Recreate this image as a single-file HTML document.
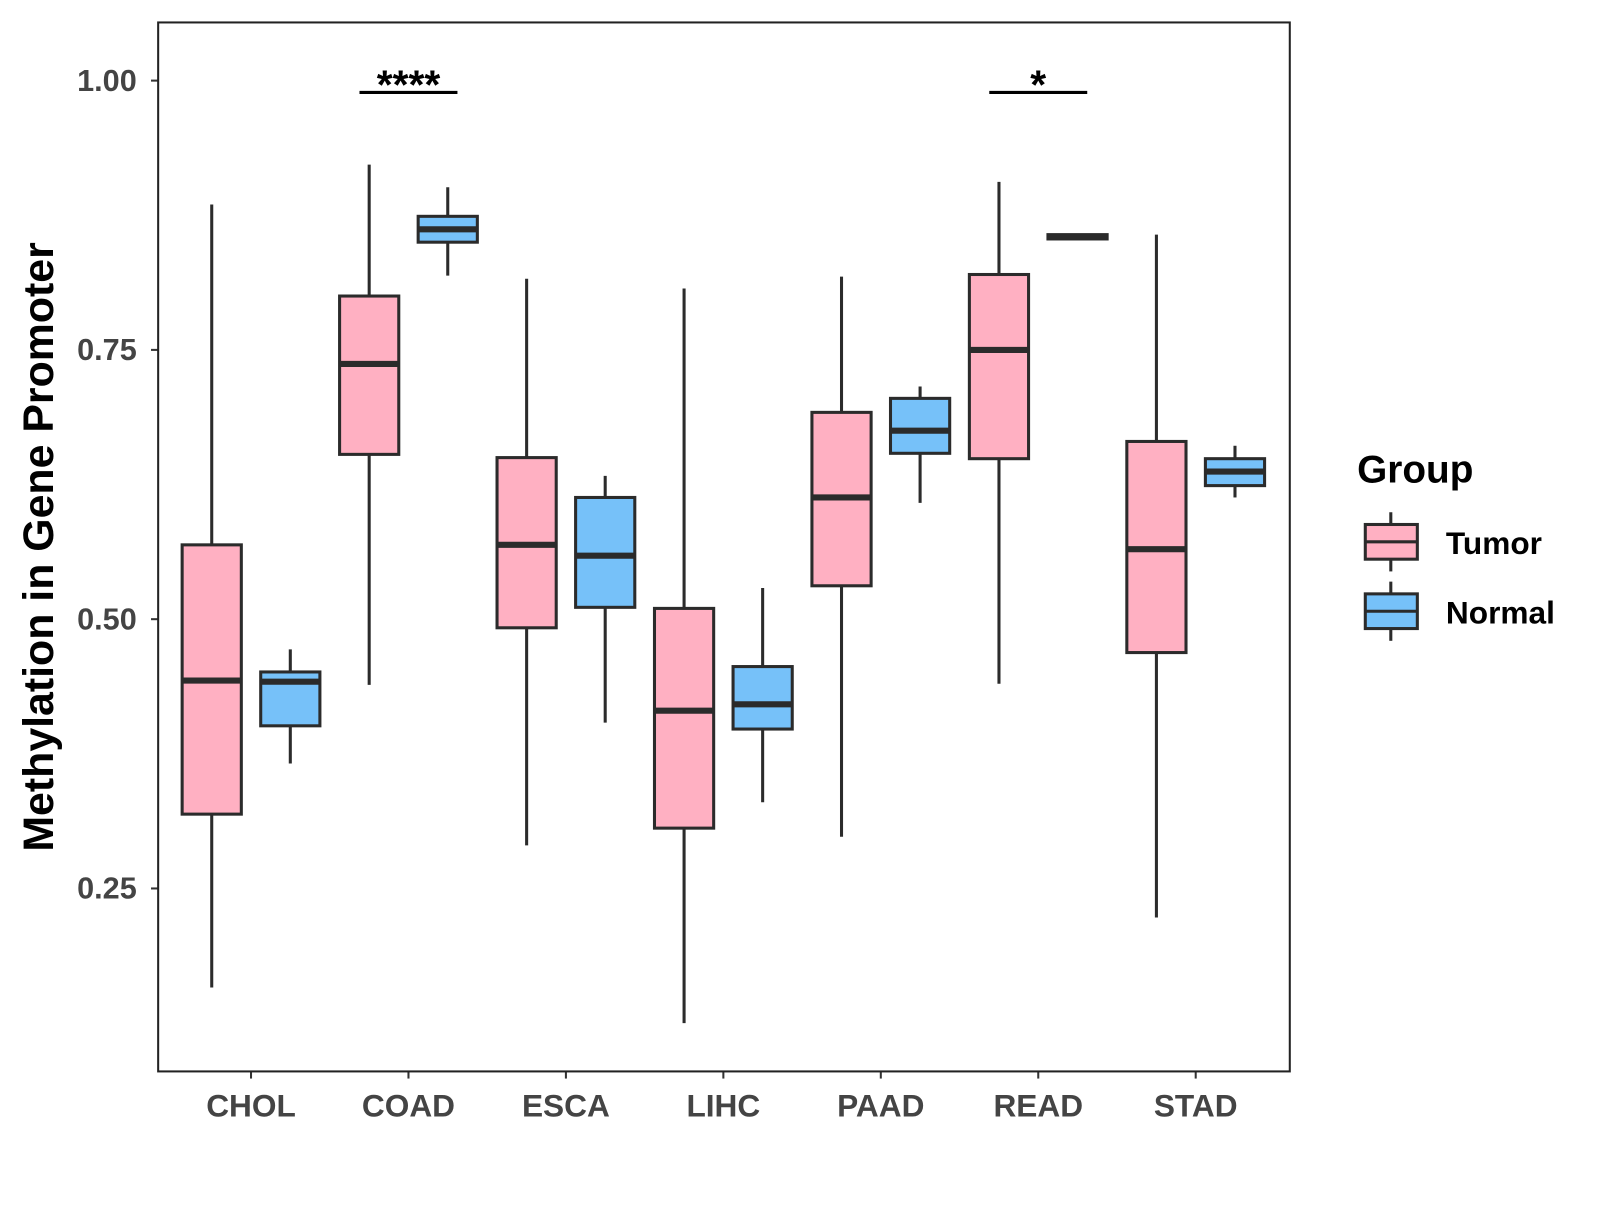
<!DOCTYPE html>
<html><head><meta charset="utf-8"><style>
body{margin:0;background:#fff;}
svg text{font-family:"Liberation Sans",Arial,sans-serif;font-weight:bold;}
</style></head><body>
<svg id="chart" width="1600" height="1200" xmlns="http://www.w3.org/2000/svg">
<rect x="0" y="0" width="1600" height="1200" fill="#fff"/>
<g transform="scale(1.0204)">
<g id="plot"></g>
<rect x="155" y="22" width="1109" height="1028" fill="none" stroke="#222" stroke-width="2"/>
<text x="52" y="536" font-size="42" text-anchor="middle" transform="rotate(-90 52 536)" fill="#000">Methylation in Gene Promoter</text>
<text x="1330" y="473" font-size="38" fill="#000">Group</text>
<g>
<line x1="1363" y1="502" x2="1363" y2="560" stroke="#2b2b2b" stroke-width="3"/>
<rect x="1338" y="514" width="51" height="34" fill="#FFB0C2" stroke="#2b2b2b" stroke-width="3"/>
<line x1="1338" y1="531" x2="1389" y2="531" stroke="#2b2b2b" stroke-width="3"/>
<text x="1417" y="543" font-size="31" fill="#000">Tumor</text></g>
<g>
<line x1="1363" y1="570" x2="1363" y2="628" stroke="#2b2b2b" stroke-width="3"/>
<rect x="1338" y="582" width="51" height="34" fill="#76C1F9" stroke="#2b2b2b" stroke-width="3"/>
<line x1="1338" y1="599" x2="1389" y2="599" stroke="#2b2b2b" stroke-width="3"/>
<text x="1417" y="611" font-size="31" fill="#000">Normal</text></g>
</g>
</svg>
<script>
const categories=["CHOL","COAD","ESCA","LIHC","PAAD","READ","STAD"];
const yTicks=[0.25,0.50,0.75,1.00];
const yTickLabels=["0.25","0.50","0.75","1.00"];
// [whiskerHigh, q3, median, q1, whiskerLow]
const tumorStats=[[0.885,0.569,0.443,0.319,0.158],[0.922,0.800,0.737,0.653,0.439],[0.816,0.650,0.569,0.492,0.290],[0.807,0.510,0.415,0.306,0.125],[0.818,0.692,0.613,0.531,0.298],[0.906,0.820,0.750,0.649,0.440],[0.857,0.665,0.565,0.469,0.223]];
const normalStats=[[0.472,0.451,0.442,0.401,0.366],[0.901,0.874,0.862,0.850,0.819],[0.633,0.613,0.559,0.511,0.404],[0.529,0.456,0.421,0.398,0.330],[0.716,0.705,0.675,0.654,0.608],[0.856,0.857,0.855,0.853,0.854],[0.661,0.649,0.637,0.624,0.613]];
const sigCategories=["COAD","READ"];
const sigLabels=["****","*"];
const sigLevel=0.989;

const NS="http://www.w3.org/2000/svg";
const g=document.getElementById('plot');
const y=v=>79+(1-v)*1055.6;
const x=i=>246+i*154.3;
function mk(t,a,p){const e=document.createElementNS(NS,t);for(const k in a)e.setAttribute(k,a[k]);(p||g).appendChild(e);return e;}
yTicks.forEach((t,i)=>{
 const l=mk('line',{x1:148,x2:155,y1:y(t),y2:y(t),stroke:'#333','stroke-width':2});
 
 
 const tx=mk('text',{x:134,y:y(t)+10,'font-size':30,'text-anchor':'end',fill:'#444'});
 tx.textContent=yTickLabels[i];
 
 
});
categories.forEach((c,i)=>{
 const l=mk('line',{x1:x(i),x2:x(i),y1:1050,y2:1057,stroke:'#333','stroke-width':2});
 
 
 const tx=mk('text',{x:x(i),y:1094,'font-size':31,'text-anchor':'middle',fill:'#444'});
 tx.textContent=c;
 
 
});
function box(s,cx,fill,name){
 const grp=mk('g',{});
 
 
 const w=29;
 mk('line',{x1:cx,x2:cx,y1:y(s[0]),y2:y(s[4]),stroke:'#2b2b2b','stroke-width':3},grp);
 mk('rect',{x:cx-w,y:y(s[1]),width:2*w,height:Math.max(0.5,y(s[3])-y(s[1])),fill:fill,stroke:'#2b2b2b','stroke-width':3},grp);
 mk('line',{x1:cx-w,x2:cx+w,y1:y(s[2]),y2:y(s[2]),stroke:'#2b2b2b','stroke-width':6},grp);
}
categories.forEach((c,i)=>{
 box(tumorStats[i],x(i)-38.5,'#FFB0C2','box-tumor-'+c.toLowerCase());
 box(normalStats[i],x(i)+38.5,'#76C1F9','box-normal-'+c.toLowerCase());
});
sigCategories.forEach((c,k)=>{
 const i=categories.indexOf(c);
 const l=mk('line',{x1:x(i)-48,x2:x(i)+48,y1:y(sigLevel),y2:y(sigLevel),stroke:'#000','stroke-width':3});
 
 
 const tx=mk('text',{x:x(i),y:y(sigLevel)+6,'font-size':40,'text-anchor':'middle',fill:'#000'});
 tx.textContent=sigLabels[k];
 
 
});
</script>
</body></html>
